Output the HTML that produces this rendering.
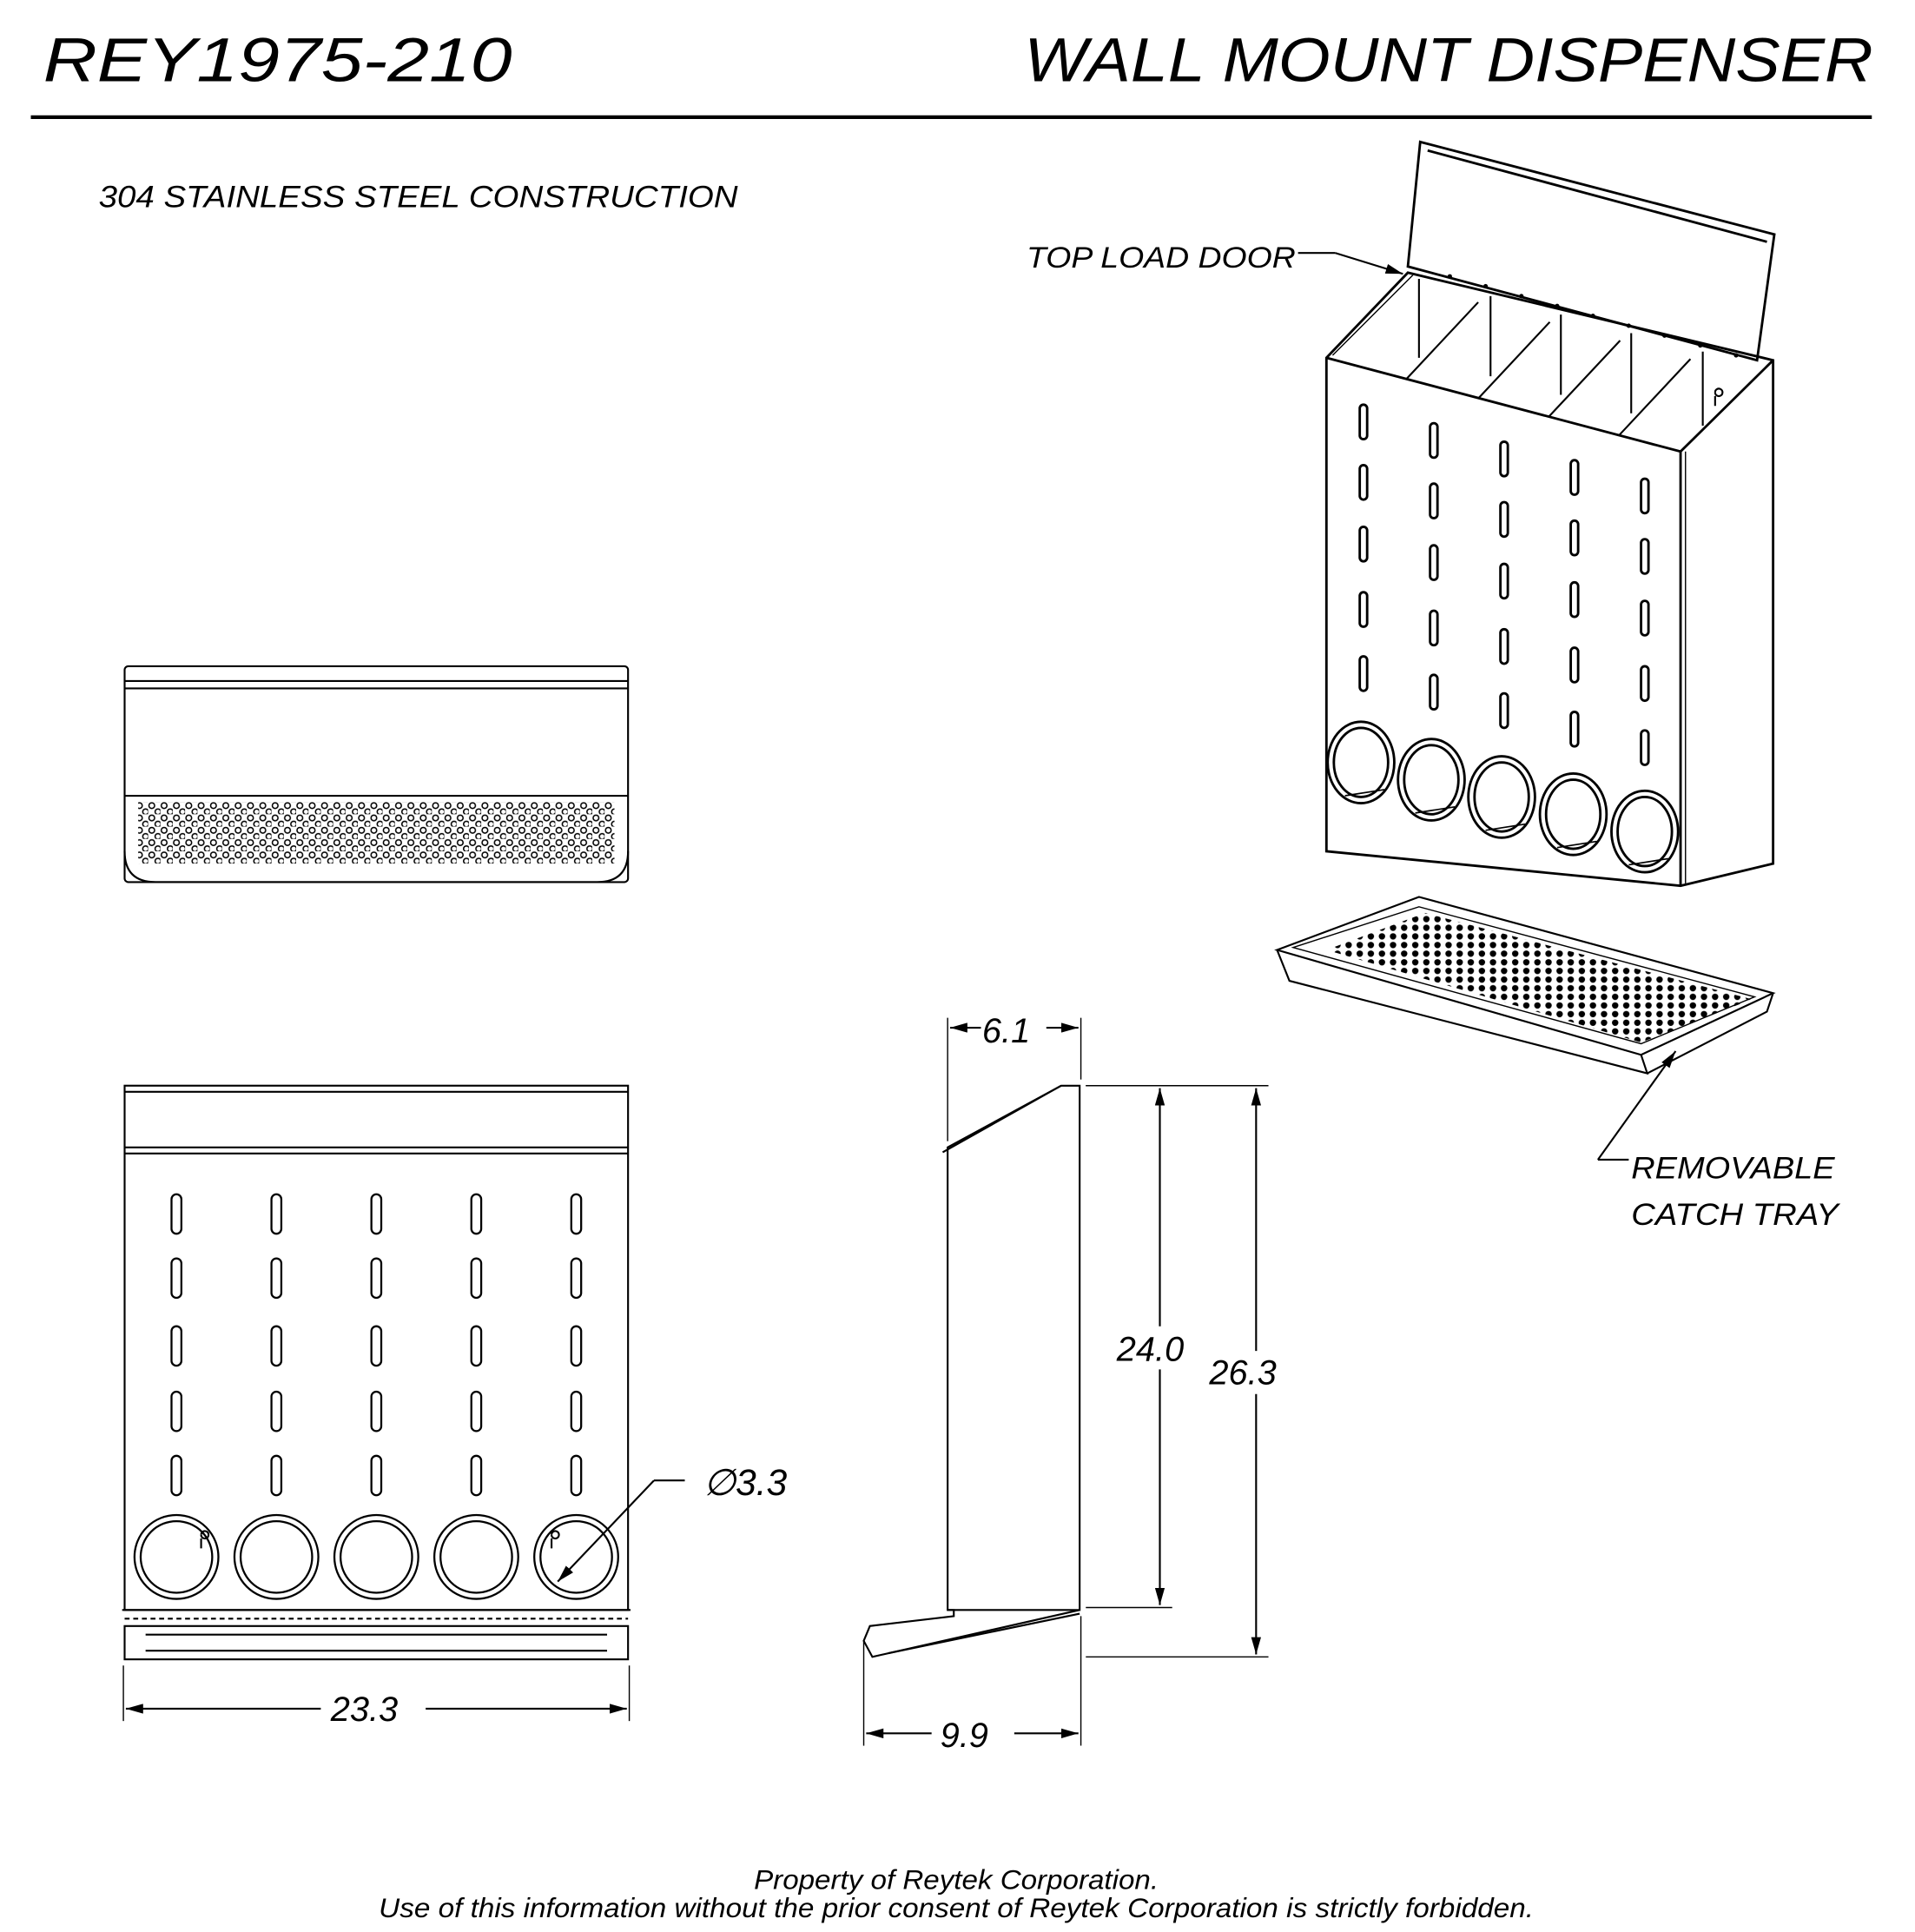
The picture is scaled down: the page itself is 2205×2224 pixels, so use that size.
<!DOCTYPE html>
<html><head><meta charset="utf-8">
<style>
html,body{margin:0;padding:0;background:#fff;}
svg{display:block;}
text{font-family:"Liberation Sans",sans-serif;font-style:italic;fill:#000;}
</style></head>
<body>
<svg width="2205" height="2224" viewBox="0 0 1552 1566" preserveAspectRatio="none" xmlns="http://www.w3.org/2000/svg">
<defs>
<pattern id="dots" x="0" y="0" width="10" height="10" patternUnits="userSpaceOnUse">
<circle cx="3" cy="3" r="2.3" fill="none" stroke="#000" stroke-width="1.1"/>
<circle cx="8" cy="8" r="2.3" fill="none" stroke="#000" stroke-width="1.1"/>
</pattern>
<pattern id="tdots" x="0" y="0" width="9" height="7" patternUnits="userSpaceOnUse">
<circle cx="4" cy="3" r="2.6" fill="#000"/>
</pattern>
<marker id="ar" markerWidth="14" markerHeight="8" refX="14" refY="4" orient="auto" markerUnits="userSpaceOnUse">
<path d="M0,0 L14,4 L0,8 Z" fill="#000"/>
</marker>
</defs>
<rect width="1552" height="1566" fill="#fff"/>

<!-- Header -->
<text x="35" y="66" font-size="50" textLength="380" lengthAdjust="spacingAndGlyphs">REY1975-210</text>
<text x="830" y="66" font-size="50" textLength="688" lengthAdjust="spacingAndGlyphs">WALL MOUNT DISPENSER</text>
<line x1="25" y1="95" x2="1517" y2="95" stroke="#000" stroke-width="3"/>
<text x="80" y="168" font-size="25" textLength="518" lengthAdjust="spacingAndGlyphs">304 STAINLESS STEEL CONSTRUCTION</text>

<g fill="none" stroke="#000" stroke-width="1.5">
<!-- Top view -->
<rect x="101" y="540" width="408" height="175" rx="3"/>
<line x1="101" y1="552" x2="509" y2="552"/>
<line x1="101" y1="558" x2="509" y2="558"/>
<line x1="101" y1="645" x2="509" y2="645"/>
<path d="M101,690 Q101,715 126,715 L484,715 Q509,715 509,690"/>
<rect x="112" y="650" width="386" height="50" fill="url(#dots)" stroke="none"/>

<!-- Front view -->
<rect x="101" y="880" width="408" height="425"/>
<line x1="101" y1="885" x2="509" y2="885"/>
<line x1="101" y1="930" x2="509" y2="930"/>
<line x1="101" y1="935" x2="509" y2="935"/>
<g stroke-width="1.6">
<g id="col">
<rect x="139" y="968" width="8" height="32" rx="4"/>
<rect x="139" y="1020" width="8" height="32" rx="4"/>
<rect x="139" y="1075" width="8" height="32" rx="4"/>
<rect x="139" y="1128" width="8" height="32" rx="4"/>
<rect x="139" y="1180" width="8" height="32" rx="4"/>
<circle cx="143" cy="1262" r="34"/>
<circle cx="143" cy="1262" r="29"/>
</g>
<use href="#col" x="81"/>
<use href="#col" x="162"/>
<use href="#col" x="243"/>
<use href="#col" x="324"/>
</g>
<path d="M163,1244 a3,3 0 1 1 0,0.1 M163,1247 v8" />
<path d="M447,1244 a3,3 0 1 1 0,0.1 M447,1247 v8" />
<line x1="99" y1="1305" x2="511" y2="1305"/>
<line x1="101" y1="1312" x2="509" y2="1312" stroke-dasharray="4,3"/>
<rect x="101" y="1318" width="408" height="27"/>
<line x1="118" y1="1325" x2="492" y2="1325"/>
<line x1="118" y1="1338" x2="492" y2="1338"/>
<!-- dim 23.3 -->
<line x1="100" y1="1350" x2="100" y2="1395" stroke-width="1"/>
<line x1="510" y1="1350" x2="510" y2="1395" stroke-width="1"/>
<line x1="260" y1="1385" x2="102" y2="1385" marker-end="url(#ar)"/>
<line x1="345" y1="1385" x2="508" y2="1385" marker-end="url(#ar)"/>
<!-- dia -->
<line x1="555" y1="1200" x2="530" y2="1200"/>
<line x1="530" y1="1200" x2="452" y2="1282" marker-end="url(#ar)"/>

<!-- Side view -->
<path d="M875,880 L875,1305 L768,1305 L768,930 L860,880 Z"/>
<line x1="764" y1="934" x2="860" y2="880"/>
<path d="M768,1305 L773,1305 L773,1310 L705,1318 L700,1330 L707,1343 L875,1305"/>
<line x1="720" y1="1340" x2="875" y2="1308"/>
<!-- dim 6.1 -->
<line x1="768" y1="825" x2="768" y2="925" stroke-width="1"/>
<line x1="876" y1="825" x2="876" y2="875" stroke-width="1"/>
<line x1="795" y1="833" x2="770" y2="833" marker-end="url(#ar)"/>
<line x1="848" y1="833" x2="874" y2="833" marker-end="url(#ar)"/>
<!-- dim 24.0 -->
<line x1="880" y1="880" x2="950" y2="880" stroke-width="1"/>
<line x1="880" y1="1303" x2="950" y2="1303" stroke-width="1"/>
<line x1="940" y1="1075" x2="940" y2="882" marker-end="url(#ar)"/>
<line x1="940" y1="1110" x2="940" y2="1301" marker-end="url(#ar)"/>
<!-- dim 26.3 -->
<line x1="880" y1="880" x2="1028" y2="880" stroke-width="1"/>
<line x1="880" y1="1343" x2="1028" y2="1343" stroke-width="1"/>
<line x1="1018" y1="1095" x2="1018" y2="882" marker-end="url(#ar)"/>
<line x1="1018" y1="1130" x2="1018" y2="1341" marker-end="url(#ar)"/>
<!-- dim 9.9 -->
<line x1="700" y1="1330" x2="700" y2="1415" stroke-width="1"/>
<line x1="876" y1="1310" x2="876" y2="1415" stroke-width="1"/>
<line x1="755" y1="1405" x2="702" y2="1405" marker-end="url(#ar)"/>
<line x1="822" y1="1405" x2="874" y2="1405" marker-end="url(#ar)"/>

<!-- Isometric box -->
<g stroke-width="2">
<path d="M1151,115 L1438,190 L1424,292 L1141,216 Z"/>
<line x1="1157" y1="122" x2="1432" y2="196"/>
<path d="M1075,290 L1141,221 L1437,292 L1437,700 L1362,718 L1075,690 Z"/>
<line x1="1075" y1="290" x2="1362" y2="366"/>
<line x1="1362" y1="366" x2="1437" y2="292"/>
<line x1="1362" y1="366" x2="1362" y2="718"/>
<line x1="1366" y1="366" x2="1366" y2="716" stroke-width="1"/>
<line x1="1080" y1="288" x2="1145" y2="223" stroke-width="1"/>
</g>
<!-- hinge dots -->
<g fill="#000" stroke="none">
<circle cx="1175" cy="224" r="1.8"/><circle cx="1204" cy="232" r="1.8"/><circle cx="1233" cy="240" r="1.8"/>
<circle cx="1262" cy="248" r="1.8"/><circle cx="1291" cy="256" r="1.8"/><circle cx="1320" cy="264" r="1.8"/>
<circle cx="1349" cy="272" r="1.8"/><circle cx="1378" cy="280" r="1.8"/><circle cx="1407" cy="288" r="1.8"/>
</g>
<!-- dividers -->
<line x1="1140" y1="307" x2="1198" y2="245"/>
<line x1="1198" y1="323" x2="1256" y2="261"/>
<line x1="1255" y1="338" x2="1313" y2="276"/>
<line x1="1312" y1="353" x2="1370" y2="291"/>
<line x1="1150" y1="226" x2="1150" y2="290"/>
<line x1="1208" y1="240" x2="1208" y2="305"/>
<line x1="1265" y1="255" x2="1265" y2="320"/>
<line x1="1322" y1="270" x2="1322" y2="335"/>
<line x1="1380" y1="285" x2="1380" y2="345"/>
<path d="M1390,318 a3,3 0 1 1 0,0.1 M1390,321 v8"/>
<!-- slots -->
<g stroke-width="2">
<g id="icol">
<rect x="1102" y="328" width="6" height="28" rx="3"/>
<rect x="1102" y="377" width="6" height="28" rx="3"/>
<rect x="1102" y="427" width="6" height="28" rx="3"/>
<rect x="1102" y="480" width="6" height="28" rx="3"/>
<rect x="1102" y="532" width="6" height="28" rx="3"/>
</g>
<use href="#icol" x="57" y="15"/>
<use href="#icol" x="114" y="30"/>
<use href="#icol" x="171" y="45"/>
<use href="#icol" x="228" y="60"/>
</g>
<g stroke-width="2">
<g id="hole">
<ellipse cx="1103" cy="618" rx="27" ry="33"/><ellipse cx="1103" cy="618" rx="22" ry="28"/>
<line x1="1090" y1="645" x2="1122" y2="640" stroke-width="1.2"/>
</g>
<use href="#hole" x="57" y="14"/>
<use href="#hole" x="114" y="28"/>
<use href="#hole" x="172" y="42"/>
<use href="#hole" x="230" y="56"/>
</g>
<!-- tray -->
<path d="M1035,770 L1150,727 L1437,805 L1330,855 Z"/>
<path d="M1035,770 L1045,795 L1335,870 L1330,855"/>
<path d="M1437,805 L1432,820 L1335,870"/>
<path d="M1048,768 L1150,735 L1422,808 L1330,846 Z" stroke-width="1"/>
<path d="M1075,770 L1155,740 L1420,810 L1330,845 Z" fill="url(#tdots)" stroke="none"/>
<!-- leaders -->
<line x1="1052" y1="205" x2="1082" y2="205"/>
<line x1="1082" y1="205" x2="1137" y2="222" marker-end="url(#ar)"/>
<line x1="1320" y1="940" x2="1295" y2="940"/>
<line x1="1295" y1="940" x2="1358" y2="852" marker-end="url(#ar)"/>
</g>

<text x="832" y="217" font-size="24" textLength="218" lengthAdjust="spacingAndGlyphs">TOP LOAD DOOR</text>
<text x="1322" y="955" font-size="25" textLength="165" lengthAdjust="spacingAndGlyphs">REMOVABLE</text>
<text x="1322" y="993" font-size="25" textLength="168" lengthAdjust="spacingAndGlyphs">CATCH TRAY</text>
<text x="268" y="1395" font-size="28">23.3</text>
<text x="570" y="1212" font-size="30">∅3.3</text>
<text x="796" y="845" font-size="28">6.1</text>
<text x="905" y="1103" font-size="28">24.0</text>
<text x="980" y="1122" font-size="28">26.3</text>
<text x="762" y="1416" font-size="28">9.9</text>

<text x="775" y="1531" font-size="22" text-anchor="middle" textLength="328" lengthAdjust="spacingAndGlyphs">Property of Reytek Corporation.</text>
<text x="775" y="1554" font-size="22" text-anchor="middle" textLength="936" lengthAdjust="spacingAndGlyphs">Use of this information without the prior consent of Reytek Corporation is strictly forbidden.</text>
</svg>
</body></html>
